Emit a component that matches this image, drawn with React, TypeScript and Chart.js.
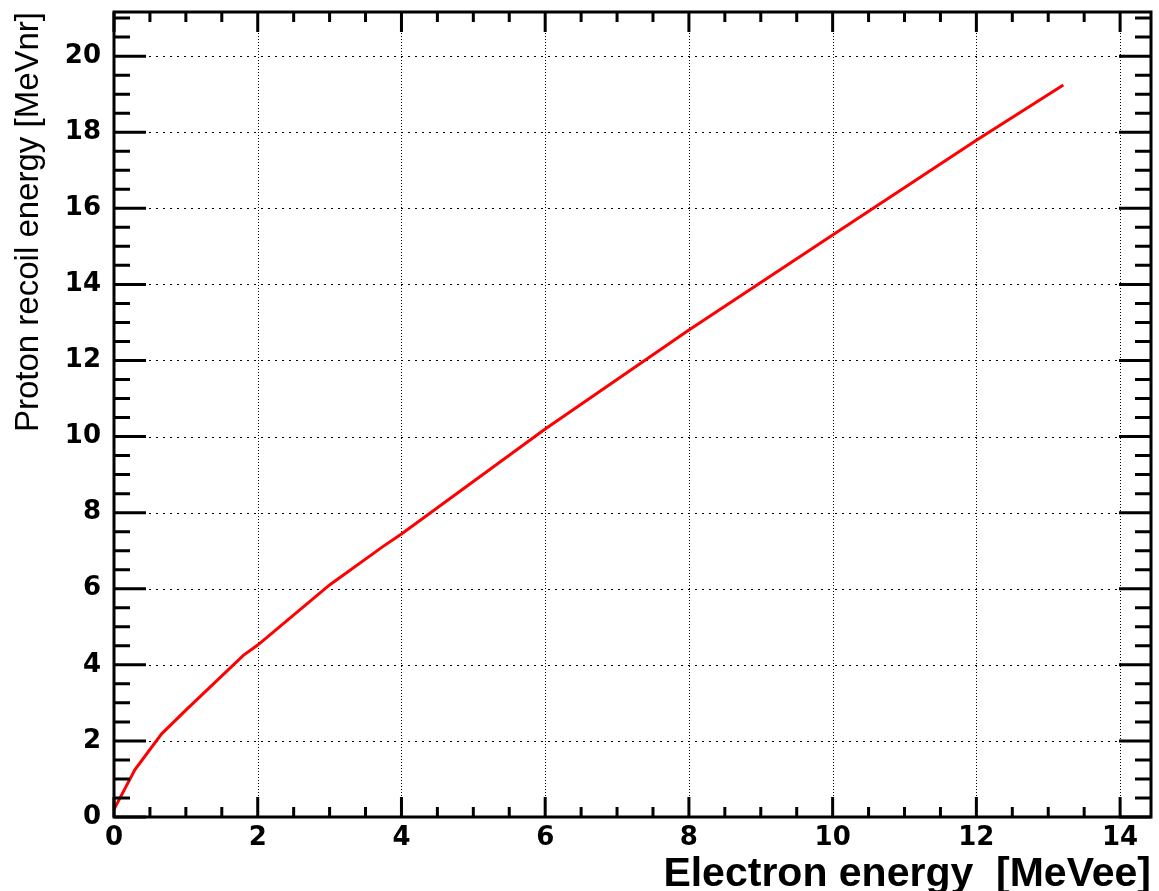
import React, { useEffect, useRef } from "react";
import { Chart, registerables } from "chart.js";

Chart.register(...registerables);

// Data
const electronEnergy = [0, 0.29, 0.66, 1.0, 1.8, 2.0, 3.0, 3.75, 4.0, 6.0, 8.0, 10.0, 12.0, 13.21];
const protonEnergy = [0.2, 1.24, 2.18, 2.81, 4.25, 4.52, 6.1, 7.12, 7.44, 10.2, 12.8, 15.3, 17.79, 19.24];

const xMajorTicks = [0, 2, 4, 6, 8, 10, 12, 14];
const yMajorTicks = [0, 2, 4, 6, 8, 10, 12, 14, 16, 18, 20];
const xMinorStep = 0.5;
const yMinorStep = 0.5;
const xMin = 0;
const xMax = 14.43;
const yMin = 0;
const yMax = 21.16;

const xTitle = "Electron energy  [MeVee]";
const yTitle = "Proton recoil energy [MeVnr]";

const rootFramePlugin = {
  id: "rootFrame",
  beforeDatasetsDraw(chart: any) {
    const { ctx, chartArea } = chart;
    const { left, right, top, bottom } = chartArea;
    const xs = chart.scales.x;
    const ys = chart.scales.y;
    ctx.save();
    ctx.strokeStyle = "#000";
    ctx.lineWidth = 1;
    ctx.setLineDash([1, 2]);
    for (const v of xMajorTicks) {
      if (v === xMin) continue;
      const px = Math.round(xs.getPixelForValue(v)) + 0.5;
      ctx.beginPath();
      ctx.moveTo(px, top);
      ctx.lineTo(px, bottom);
      ctx.stroke();
    }
    ctx.setLineDash([2, 5]);
    for (const v of yMajorTicks) {
      if (v === yMin) continue;
      const py = Math.round(ys.getPixelForValue(v)) + 0.5;
      ctx.beginPath();
      ctx.moveTo(left, py);
      ctx.lineTo(right, py);
      ctx.stroke();
    }
    ctx.restore();
  },
  afterDatasetsDraw(chart: any) {
    const { ctx, chartArea } = chart;
    const { left, right, top, bottom } = chartArea;
    const xs = chart.scales.x;
    const ys = chart.scales.y;
    ctx.save();
    ctx.setLineDash([]);
    ctx.strokeStyle = "#000";
    ctx.lineWidth = 3;
    ctx.lineCap = "butt";
    for (let k = 0; k * xMinorStep <= xMax + 1e-9; k++) {
      const v = k * xMinorStep;
      const major = xMajorTicks.includes(v);
      const len = major ? 20 : 10;
      const px = xs.getPixelForValue(v);
      ctx.beginPath();
      ctx.moveTo(px, bottom);
      ctx.lineTo(px, bottom - len);
      ctx.moveTo(px, top);
      ctx.lineTo(px, top + len);
      ctx.stroke();
    }
    for (let k = 0; k * yMinorStep <= yMax + 1e-9; k++) {
      const v = k * yMinorStep;
      const major = yMajorTicks.includes(v);
      const len = major ? 32 : 16;
      const py = ys.getPixelForValue(v);
      ctx.beginPath();
      ctx.moveTo(left, py);
      ctx.lineTo(left + len, py);
      ctx.moveTo(right, py);
      ctx.lineTo(right - len, py);
      ctx.stroke();
    }
    ctx.lineWidth = 3;
    ctx.strokeRect(left, top, right - left, bottom - top);
    ctx.restore();
  },
};

export default function App() {
  const canvasRef = useRef<HTMLCanvasElement | null>(null);

  useEffect(() => {
    const canvas = canvasRef.current;
    if (!canvas) return;
    const points = electronEnergy.map((x, i) => ({ x, y: protonEnergy[i] }));
    const tickFont = { family: "'DejaVu Sans', sans-serif", weight: "bold" as const, size: 26 };
    const chart = new Chart(canvas, {
      type: "line",
      data: {
        datasets: [
          {
            data: points,
            borderColor: "#ff0000",
            borderWidth: 3,
            pointRadius: 0,
            tension: 0,
            fill: false,
          },
        ],
      },
      options: {
        animation: false,
        responsive: false,
        devicePixelRatio: 1,
        layout: { padding: { top: 12, right: 8, left: 0, bottom: 0 } },
        plugins: {
          legend: { display: false },
          tooltip: { enabled: false },
        },
        scales: {
          x: {
            type: "linear",
            position: "bottom",
            min: xMin,
            max: xMax,
            grid: { display: false, drawTicks: false },
            border: { display: false },
            afterBuildTicks: (scale: any) => {
              scale.ticks = xMajorTicks.map((value) => ({ value }));
            },
            afterFit: (scale: any) => {
              scale.height = 74;
              scale.paddingLeft = 0;
              scale.paddingRight = 0;
              scale.paddingTop = 0;
              scale.paddingBottom = 0;
            },
            ticks: {
              font: tickFont,
              color: "#000",
              padding: 6,
              maxRotation: 0,
              autoSkip: false,
            },
            title: {
              display: true,
              text: xTitle,
              align: "end",
              color: "#000",
              font: { family: "'Liberation Sans', Arial, sans-serif", weight: "bold", size: 41, lineHeight: 0.8 },
              padding: 0,
            },
          },
          y: {
            type: "linear",
            position: "left",
            min: yMin,
            max: yMax,
            grid: { display: false, drawTicks: false },
            border: { display: false },
            afterBuildTicks: (scale: any) => {
              scale.ticks = yMajorTicks.map((value) => ({ value }));
            },
            afterFit: (scale: any) => {
              scale.width = 114;
              scale.paddingLeft = 0;
              scale.paddingRight = 0;
              scale.paddingTop = 0;
              scale.paddingBottom = 0;
            },
            ticks: {
              font: tickFont,
              color: "#000",
              padding: 13,
              autoSkip: false,
            },
            title: {
              display: true,
              text: yTitle,
              align: "end",
              color: "#000",
              font: { family: "'Liberation Sans', Arial, sans-serif", size: 33, lineHeight: 1.2 },
              padding: { top: 9, bottom: 0 },
            },
          },
        },
      },
      plugins: [rootFramePlugin],
    });
    return () => chart.destroy();
  }, []);

  return (
    <div style={{ position: "absolute", left: 0, top: 0, width: 1159, height: 891, background: "#fff" }}>
      <canvas ref={canvasRef} width={1159} height={891} style={{ display: "block" }} />
    </div>
  );
}
